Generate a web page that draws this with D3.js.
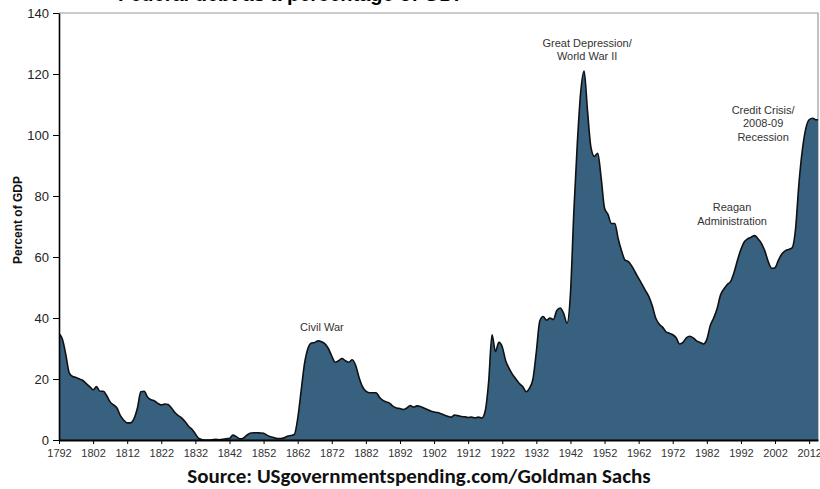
<!DOCTYPE html>
<html><head><meta charset="utf-8">
<script src="https://cdn.jsdelivr.net/npm/d3@7"></script>
<style>body{margin:0;background:#fff}svg{display:block}</style>
</head><body>
<svg id="c" width="820" height="489"></svg>
<script>
const years = d3.range(1792, 2016);
const debtPct = [
35,33,28,22,20.8,20.5,20,19.5,18.5,17.5, // 1792-1801
16.5,17.5,16,16,14.5,12.5,11.5,10.5,8,6.5, // 1802-1811
5.6,5.6,7,10.5,15.8,16,14,13.2,12.8,12, // 1812-1821
11.5,11.8,11.6,10.5,9,8,7.2,6,4.5,3.5, // 1822-1831
2,0.5,0.1,0,0,0.1,0.2,0.1,0.2,0.4, // 1832-1841
0.5,1.6,1.1,0.4,0.6,1.5,2.2,2.4,2.4,2.3, // 1842-1851
2.2,1.6,1.1,0.8,0.5,0.5,0.7,1.2,1.5,1.8, // 1852-1861
7,16,25,30,31.8,32,32.5,32.2,31.5,30, // 1862-1871
27.5,25.5,26,26.7,26,25.5,26.3,24.5,20.5,17.5, // 1872-1881
16,15.5,15.5,15.5,14,13,12.5,12,11,10.5, // 1882-1891
10.3,10,10.5,11.3,10.8,11.2,11,10.5,10,9.5, // 1892-1901
9.2,9,8.6,8.2,7.8,7.5,8.2,8,7.7,7.6, // 1902-1911
7.4,7.5,7.3,7.5,7.2,9.5,19,34.5,29,32, // 1912-1921
30.5,26,23.5,21.5,20,18.5,17.5,15.8,17,20, // 1922-1931
29,39,40.5,39.3,40,39.5,42.5,43.3,41.5,38.3, // 1932-1941
48,75,97,114,121,108,96,93,94,86, // 1942-1951
76,74,71,71,66,62,59,58.5,57,55, // 1952-1961
53,51,49,47,44,40,38,37,35.5,35, // 1962-1971
34.5,33.5,31.5,32,33.5,34,33.5,32.5,32,31.5, // 1972-1981
33,37.5,40,43,47.5,49.5,51,52,55,59, // 1982-1991
62.5,65,66,66.5,67,66,64.5,62,58.5,56.3, // 1992-2001
56.5,59,61,62,62.5,63,69,84,95,102, // 2002-2011
105,105.5,105,105 // 2012-2015
];
const xTicks = d3.range(1792, 2013, 10);
const yTicks = d3.range(0, 141, 20);
const notes = [
  {year:1869.1, value:35.7, lines:["Civil War"]},
  {year:1946.9, value:129, lines:["Great Depression/","World War II"]},
  {year:1989.4, value:75, lines:["Reagan","Administration"]},
  {year:1998.5, value:106.9, lines:["Credit Crisis/","2008-09","Recession"]}
];

const data = years.map((y,i)=>({year:y, value:debtPct[i]}));
const svg = d3.select("#c");
const L=59, R=818, T=13, B=440;
const x = d3.scaleLinear().domain([1792, 2014.6]).range([L, R]);
const y = d3.scaleLinear().domain([0, 140]).range([B, T]);

svg.append("defs").append("clipPath").attr("id","clip")
  .append("rect").attr("x",L).attr("y",T-2).attr("width",R-L).attr("height",B-T+2);

// title (cut off at top, as in the reference)
svg.append("text").attr("x",118).attr("y",1)
  .attr("font-family","Liberation Sans, Arial, sans-serif").attr("font-weight","bold")
  .attr("font-size",20).attr("fill","#000")
  .text("Federal debt as a percentage of GDP");

// plot border
svg.append("path").attr("d",`M${L},${T}H${R}V${B}`).attr("fill","none")
  .attr("stroke","#9a9a9a").attr("stroke-width",1.2);

const g = svg.append("g").attr("clip-path","url(#clip)");
g.append("path").datum(data)
  .attr("d", d3.area().x(d=>x(d.year)).y0(y(0)).y1(d=>y(d.value)).curve(d3.curveMonotoneX))
  .attr("fill","#37617f");
g.append("path").datum(data)
  .attr("d", d3.line().x(d=>x(d.year)).y(d=>y(d.value)).curve(d3.curveMonotoneX))
  .attr("fill","none").attr("stroke","#111").attr("stroke-width",1.6);

// axes
const xa = svg.append("g").attr("transform",`translate(0,${B})`)
  .call(d3.axisBottom(x).tickValues(xTicks).tickFormat(d3.format("d")).tickSize(4).tickSizeOuter(0));
xa.select(".domain").attr("stroke","#000").attr("stroke-width",2);
xa.selectAll(".tick line").attr("stroke","#000");
xa.selectAll("text").attr("font-family","Liberation Sans, Arial, sans-serif")
  .attr("font-size",11).attr("fill","#333").attr("dy","0.9em");

const ya = svg.append("g").attr("transform",`translate(${L},0)`)
  .call(d3.axisLeft(y).tickValues(yTicks).tickSize(6).tickSizeOuter(0));
ya.select(".domain").attr("stroke","#000").attr("stroke-width",1.6);
ya.selectAll(".tick line").attr("stroke","#000");
ya.selectAll("text").attr("font-family","Liberation Sans, Arial, sans-serif")
  .attr("font-size",13).attr("fill","#222").attr("x",-10);

svg.append("text").attr("transform","translate(22,220) rotate(-90)")
  .attr("text-anchor","middle").attr("font-family","Liberation Sans, Arial, sans-serif")
  .attr("font-weight","bold").attr("font-size",12).attr("fill","#111")
  .text("Percent of GDP");

// annotations
notes.forEach(n=>{
  const t = svg.append("text").attr("text-anchor","middle")
    .attr("font-family","Liberation Sans, Arial, sans-serif").attr("font-size",11).attr("fill","#333");
  n.lines.forEach((ln,i)=>{
    t.append("tspan").attr("x",x(n.year)).attr("y",y(n.value)+i*13.5).text(ln);
  });
});

// source
svg.append("text").attr("x",419).attr("y",483).attr("text-anchor","middle")
  .attr("font-family","Carlito, Calibri, 'Open Sans', sans-serif").attr("font-weight","bold")
  .attr("font-size",21).attr("fill","#111")
  .text("Source: USgovernmentspending.com/Goldman Sachs");
</script>
</body></html>
